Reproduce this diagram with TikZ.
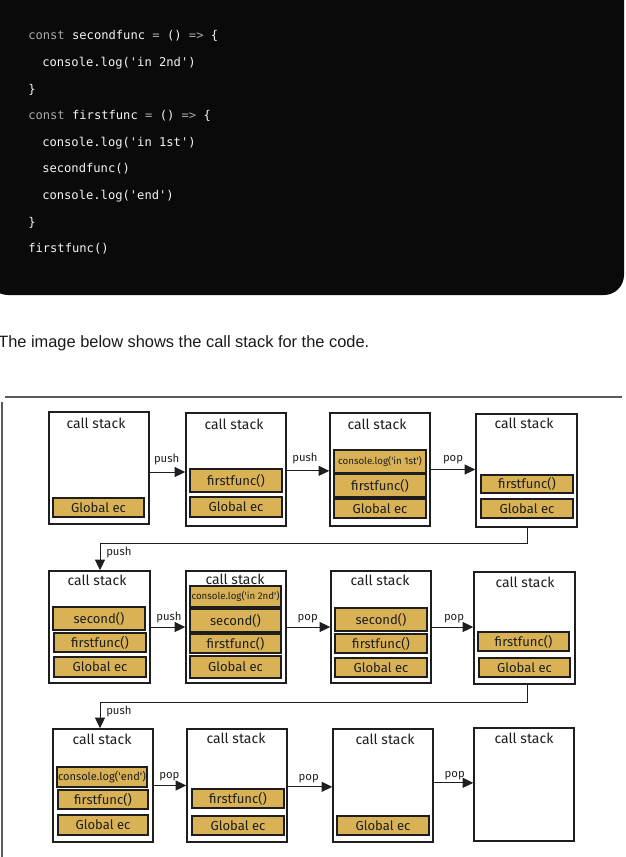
\documentclass[tikz,border=0pt]{standalone}
\usepackage{fontspec}
\setmainfont{Liberation Sans}
\newfontfamily\codefont{DejaVu Sans Mono}
\newfontfamily\handfont{Fira Sans}
\usetikzlibrary{arrows.meta}
\definecolor{codebg}{RGB}{10,10,10}
\definecolor{codegray}{RGB}{170,170,170}
\definecolor{codewhite}{RGB}{245,245,245}
\definecolor{frameyel}{RGB}{217,178,86}
\definecolor{ink}{RGB}{30,30,30}
\definecolor{rulegray}{RGB}{90,90,90}
\newcommand{\stk}[5]{\node[stackbox, minimum width={(#4-#2)*0.75pt}, minimum height={(#5-#3)*0.75pt}] (#1) at ({(#2+#4)/2},{(#3+#5)/2}) {};}
\newcommand{\cel}[7][]{\node[cellbox,#1, minimum width={(#5-#3)*0.75pt}, minimum height={(#6-#4)*0.75pt}] (#2) at ({(#3+#5)/2},{(#4+#6)/2}) {#7};}
\begin{document}
\begin{tikzpicture}[x=0.75pt,y=-0.75pt,
  stackbox/.style={draw=ink, line width=1.1pt, fill=white, inner sep=0pt},
  cellbox/.style={draw=ink, line width=0.9pt, fill=frameyel, inner sep=0pt, font=\handfont\fontsize{9.8pt}{10pt}\selectfont, text=ink},
  smallcell/.style={font=\handfont\fontsize{7.3pt}{8pt}\selectfont},
  title/.style={font=\handfont\fontsize{10.5pt}{11pt}\selectfont, text=ink, inner sep=0pt},
  lbl/.style={font=\handfont\fontsize{8.5pt}{9pt}\selectfont, text=ink, inner sep=0pt},
  arr/.style={draw=ink, line width=0.75pt, -{Triangle[length=8pt,width=7.5pt]}},
  code/.style={font=\codefont\fontsize{9.1pt}{10pt}\selectfont, text=codewhite, anchor=west, inner sep=0pt, text height=7pt, text depth=2pt}]
\useasboundingbox (0,0) rectangle (625,857);
% code block
\fill[codebg, rounded corners=15pt] (-12,-30) rectangle (624,295);
\node[code] (k1) at (28,36) {\textcolor{codegray}{const} secondfunc \textcolor{codegray}{=} () \textcolor{codegray}{=>} \{};
\node[code] (k2) at (42,63) {console.log('in 2nd')};
\node[code] (k3) at (28,90) {\}};
\node[code] (k4) at (28,116) {\textcolor{codegray}{const} firstfunc \textcolor{codegray}{=} () \textcolor{codegray}{=>} \{};
\node[code] (k5) at (42,143) {console.log('in 1st')};
\node[code] (k6) at (42,169) {secondfunc()};
\node[code] (k7) at (42,196) {console.log('end')};
\node[code] (k8) at (28,223) {\}};
\node[code] (k9) at (28,249) {firstfunc()};
% sentence
\node[anchor=west, inner sep=0pt, font=\fontsize{12.3pt}{14pt}\selectfont, text={rgb,255:red,25;green,25;blue,25}] (sent) at (-2,343) {The image below shows the call stack for the code.};
% frame
\draw[rulegray, line width=0.8pt] (5,397) -- (622,397);
\draw[rulegray, line width=0.8pt] (2,402) -- (2,860);
% stacks
\stk{b1}{49}{412}{149}{524}
\stk{b2}{186}{413}{286}{526}
\stk{b3}{330}{413}{430}{526}
\stk{b4}{476}{414}{577}{527}
\stk{b5}{49}{571}{150}{683}
\stk{b6}{186}{571}{286}{683}
\stk{b7}{331}{571}{431}{683}
\stk{b8}{474}{572}{575}{684}
\stk{b9}{53}{729}{153}{842}
\stk{b10}{187}{729}{287}{842}
\stk{b11}{333}{729}{433}{842}
\stk{b12}{474}{728}{574}{841}
% titles
\node[title] (t1) at (96,423) {call stack};
\node[title] (t2) at (234,424) {call stack};
\node[title] (t3) at (377,424) {call stack};
\node[title] (t4) at (524,423) {call stack};
\node[title] (t5) at (97,580) {call stack};
\node[title] (t6) at (235,579) {call stack};
\node[title] (t7) at (380,580) {call stack};
\node[title] (t8) at (525,582) {call stack};
\node[title] (t9) at (102,739) {call stack};
\node[title] (t10) at (236,738) {call stack};
\node[title] (t11) at (385,739) {call stack};
\node[title] (t12) at (524,738) {call stack};
% cells
\cel{g1}{53}{498}{144}{517}{Global ec}
\cel{f2}{190}{469}{282}{492}{firstfunc()}
\cel{g2}{190}{497}{282}{517}{Global ec}
\cel[smallcell]{c3}{334}{450}{426}{473}{console.log('in 1st')}
\cel{f3}{334}{474}{426}{497}{firstfunc()}
\cel{g3}{334}{499}{426}{518}{Global ec}
\cel{f4}{481}{475}{573}{493}{firstfunc()}
\cel{g4}{481}{499}{573}{518}{Global ec}
\cel{s5}{53}{607}{145}{630}{second()}
\cel{f5}{54}{633}{146}{652}{firstfunc()}
\cel{g5}{54}{657}{146}{677}{Global ec}
\cel[smallcell]{c6}{190}{586}{281}{607}{console.log('in 2nd')}
\cel{s6}{190}{609}{281}{632}{second()}
\cel{f6}{190}{634}{281}{653}{firstfunc()}
\cel{g6}{190}{656}{281}{678}{Global ec}
\cel{s7}{335}{608}{427}{631}{second()}
\cel{f7}{335}{634}{427}{653}{firstfunc()}
\cel{g7}{335}{658}{427}{677}{Global ec}
\cel{f8}{478}{632}{569}{651}{firstfunc()}
\cel{g8}{479}{658}{570}{677}{Global ec}
\cel[font=\handfont\fontsize{8.3pt}{9pt}\selectfont]{c9}{57}{767}{147}{787}{console.log('end')}
\cel{f9}{58}{790}{148}{809}{firstfunc()}
\cel{g9}{58}{815}{148}{835}{Global ec}
\cel{f10}{192}{789}{284}{808}{firstfunc()}
\cel{g10}{192}{816}{284}{835}{Global ec}
\cel{g11}{337}{816}{429}{835}{Global ec}
% horizontal arrows
\draw[arr] ([yshift=-3pt]b1.east) -- ([yshift=-3pt]b1.east -| b2.west);
\draw[arr] ([yshift=-1pt]b2.east) -- ([yshift=-1pt]b2.east -| b3.west);
\draw[arr] (b3.east) -- (b3.east -| b4.west);
\draw[arr] (b5.east) -- (b5.east -| b6.west);
\draw[arr] (b6.east) -- (b6.east -| b7.west);
\draw[arr] (b7.east) -- (b7.east -| b8.west);
\draw[arr] (b9.east) -- (b9.east -| b10.west);
\draw[arr] ([yshift=-1pt]b10.east) -- ([yshift=-1pt]b10.east -| b11.west);
\draw[arr] ([yshift=2pt]b11.east) -- ([yshift=2pt]b11.east -| b12.west);
% arrow labels
\node[lbl, anchor=base west] (l1) at ([xshift=3pt,yshift=4pt]b1.east) {push};
\node[lbl, anchor=base west] (l2) at ([xshift=4pt,yshift=6pt]b2.east) {push};
\node[lbl, anchor=base west] (l3) at ([xshift=9pt,yshift=6pt]b3.east) {pop};
\node[lbl, anchor=base west] (l4) at ([xshift=4pt,yshift=5pt]b5.east) {push};
\node[lbl, anchor=base west] (l5) at ([xshift=8pt,yshift=5pt]b6.east) {pop};
\node[lbl, anchor=base west] (l6) at ([xshift=9pt,yshift=5pt]b7.east) {pop};
\node[lbl, anchor=base west] (l7) at ([xshift=4pt,yshift=5pt]b9.east) {pop};
\node[lbl, anchor=base west] (l8) at ([xshift=8pt,yshift=4pt]b10.east) {pop};
\node[lbl, anchor=base west] (l9) at ([xshift=8pt,yshift=6pt]b11.east) {pop};
% row connectors
\coordinate (c1) at (100,543);
\coordinate (c2) at (100,702);
\draw[arr] ([xshift=1pt]b4.south) |- (c1) -- (c1 |- b5.north);
\draw[arr] ([xshift=2pt]b8.south) |- (c2) -- (c2 |- b9.north);
\node[lbl, anchor=base west] (l10) at ([xshift=4.5pt,yshift=-9pt]c1) {push};
\node[lbl, anchor=base west] (l11) at ([xshift=4.5pt,yshift=-9pt]c2) {push};
\end{tikzpicture}
\end{document}
